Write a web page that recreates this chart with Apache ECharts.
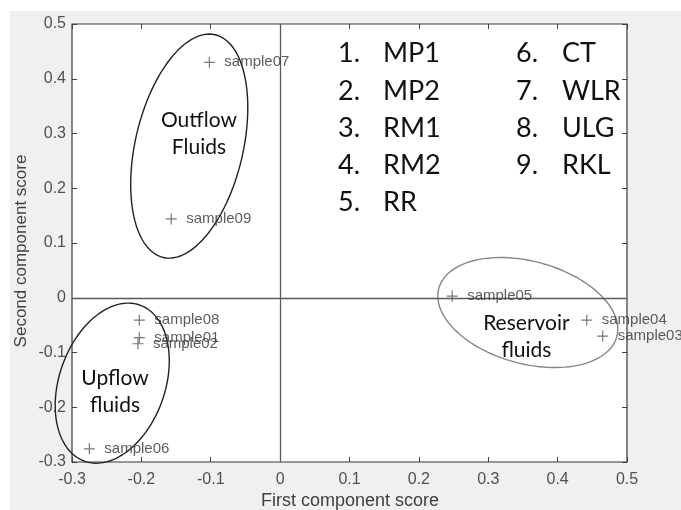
<!DOCTYPE html>
<html>
<head>
<meta charset="utf-8">
<script src="https://cdn.jsdelivr.net/npm/echarts@6/dist/echarts.min.js"></script>
<style>
html,body{margin:0;padding:0;background:#fff;}
#chart{width:681px;height:510px;}
</style>
</head>
<body>
<div id="chart"></div>
<script>
// ---- data ----
const sampleNames = ['sample01','sample02','sample03','sample04','sample05','sample06','sample07','sample08','sample09'];
const firstScore  = [-0.203, -0.205, 0.465, 0.442, 0.248, -0.275, -0.102, -0.203, -0.157];
const secondScore = [-0.073, -0.084, -0.070, -0.041, 0.003, -0.276, 0.430, -0.041, 0.144];

const xTicks = [-0.3, -0.2, -0.1, 0, 0.1, 0.2, 0.3, 0.4, 0.5];
const yTicks = [-0.3, -0.2, -0.1, 0, 0.1, 0.2, 0.3, 0.4, 0.5];

const legendNums  = ['1.', '2.', '3.', '4.', '5.', '6.', '7.', '8.', '9.'];
const legendNames = ['MP1', 'MP2', 'RM1', 'RM2', 'RR', 'CT', 'WLR', 'ULG', 'RKL'];

const groupNames   = ['Outflow\nFluids', 'Upflow\nfluids', 'Reservoir\nfluids'];
const groupCenterX = [-0.131, -0.242, 0.357];
const groupCenterY = [0.277, -0.156, -0.027];
const groupMajor   = [0.1648, 0.1194, 0.1329];   // semi-axes in x-axis units
const groupMinor   = [0.0777, 0.0763, 0.0738];
const groupAngle   = [76.9, 70.5, -15.2];        // degrees
const groupLabelX  = [-0.117, -0.238, 0.355];
const groupLabelY  = [0.299, -0.172, -0.072];

const xTitle = 'First component score';
const yTitle = 'Second component score';

// ---- build ----
const FONT = 'Arial, "Liberation Sans", sans-serif';
const chart = echarts.init(document.getElementById('chart'));
const points = sampleNames.map((n, i) => ({ name: n, value: [firstScore[i], secondScore[i]] }));
const ellipses = groupNames.map((n, i) => [groupCenterX[i], groupCenterY[i], groupMajor[i], groupMinor[i], groupAngle[i], i]);
const ellipseColors = ['#222', '#222', '#858585'];

const axisCommon = {
  type: 'value', min: -0.3, max: 0.5, interval: 0.1,
  splitLine: { show: false },
  axisLine: { show: false, onZero: false },
  axisTick: { show: true, inside: true, length: 5, lineStyle: { color: '#404040', width: 1 } }
};

const option = {
  animation: false,
  backgroundColor: 'transparent',
  grid: { left: 72, top: 24, right: 54, bottom: 48, containLabel: false, outerBoundsMode: 'none',
          show: true, backgroundColor: '#fff', borderColor: '#3a3a3a', borderWidth: 1.2 },
  xAxis: [
    Object.assign({}, axisCommon, {
      position: 'bottom',
      axisLabel: { color: '#505050', fontSize: 16, fontFamily: FONT, margin: 10 }
    }),
    Object.assign({}, axisCommon, { position: 'top', axisLabel: { show: false } })
  ],
  yAxis: [
    Object.assign({}, axisCommon, {
      position: 'left',
      axisLabel: { color: '#505050', fontSize: 16, fontFamily: FONT, margin: 6 }
    }),
    Object.assign({}, axisCommon, { position: 'right', axisLabel: { show: false } })
  ],
  series: [
    {
      type: 'scatter',
      data: points,
      symbol: 'path://M5 0V10M0 5H10',
      symbolSize: 11,
      itemStyle: { color: 'none', borderColor: '#555', borderWidth: 1.2 },
      label: {
        show: true, position: 'right', distance: 7,
        formatter: p => p.name,
        color: '#333', fontSize: 15, fontFamily: FONT
      },
      labelLayout: { hideOverlap: false },
      clip: false,
      z: 5,
      markLine: {
        silent: true, symbol: 'none', animation: false,
        label: { show: false },
        lineStyle: { color: '#5a5a5a', width: 1.3, type: 'solid' },
        data: [{ xAxis: 0 }, { yAxis: 0 }]
      }
    },
    {
      type: 'custom',
      data: ellipses,
      clip: false,
      silent: true,
      z: 4,
      renderItem: function (params, api) {
        const c = api.coord([api.value(0), api.value(1)]);
        const px = api.size([1, 0])[0];
        const a = api.value(2) * px, b = api.value(3) * px;
        const t = api.value(4) * Math.PI / 180;
        const pts = [];
        for (let k = 0; k <= 120; k++) {
          const u = k / 120 * 2 * Math.PI;
          const x = a * Math.cos(u), y = b * Math.sin(u);
          pts.push([c[0] + x * Math.cos(t) - y * Math.sin(t), c[1] - (x * Math.sin(t) + y * Math.cos(t))]);
        }
        return { type: 'polygon', shape: { points: pts }, style: { fill: 'none', stroke: ellipseColors[api.value(5)], lineWidth: 1.4 } };
      }
    }
  ]
};
chart.setOption(option);

// ---- annotations ----
const g = [{ type: 'rect', z: -10, shape: { x: 10, y: 11, width: 671, height: 499 }, style: { fill: '#f0f0f0' }, silent: true }];
g.push({ type: 'text', z: 10, x: 21, y: 251, rotation: Math.PI / 2,
  style: { text: yTitle, font: '17px ' + FONT, fill: '#404040', textAlign: 'center', textVerticalAlign: 'middle' } });
g.push({ type: 'text', z: 10, x: 350, y: 501,
  style: { text: xTitle, font: '18px ' + FONT, fill: '#404040', textAlign: 'center', textVerticalAlign: 'middle' } });
const colX = [[338, 383], [516, 562]];
const rowY = [53.5, 91, 128.5, 165.5, 202.5];
legendNums.forEach((num, i) => {
  const col = i < 5 ? 0 : 1, row = i < 5 ? i : i - 5;
  const font = '27px Lato';
  g.push({ type: 'text', z: 10, x: colX[col][0], y: rowY[row], style: { text: num, font: font, fill: '#111', textVerticalAlign: 'middle' } });
  g.push({ type: 'text', z: 10, x: colX[col][1], y: rowY[row], style: { text: legendNames[i], font: font, fill: '#111', textVerticalAlign: 'middle' } });
});
groupNames.forEach((n, i) => {
  const p = chart.convertToPixel({ gridIndex: 0 }, [groupLabelX[i], groupLabelY[i]]);
  g.push({ type: 'text', z: 10, x: p[0], y: p[1], style: { text: n, font: '21px Lato', fill: '#111', textAlign: 'center', textVerticalAlign: 'middle', lineHeight: 27 } });
});
chart.setOption({ graphic: g });
</script>
</body>
</html>
